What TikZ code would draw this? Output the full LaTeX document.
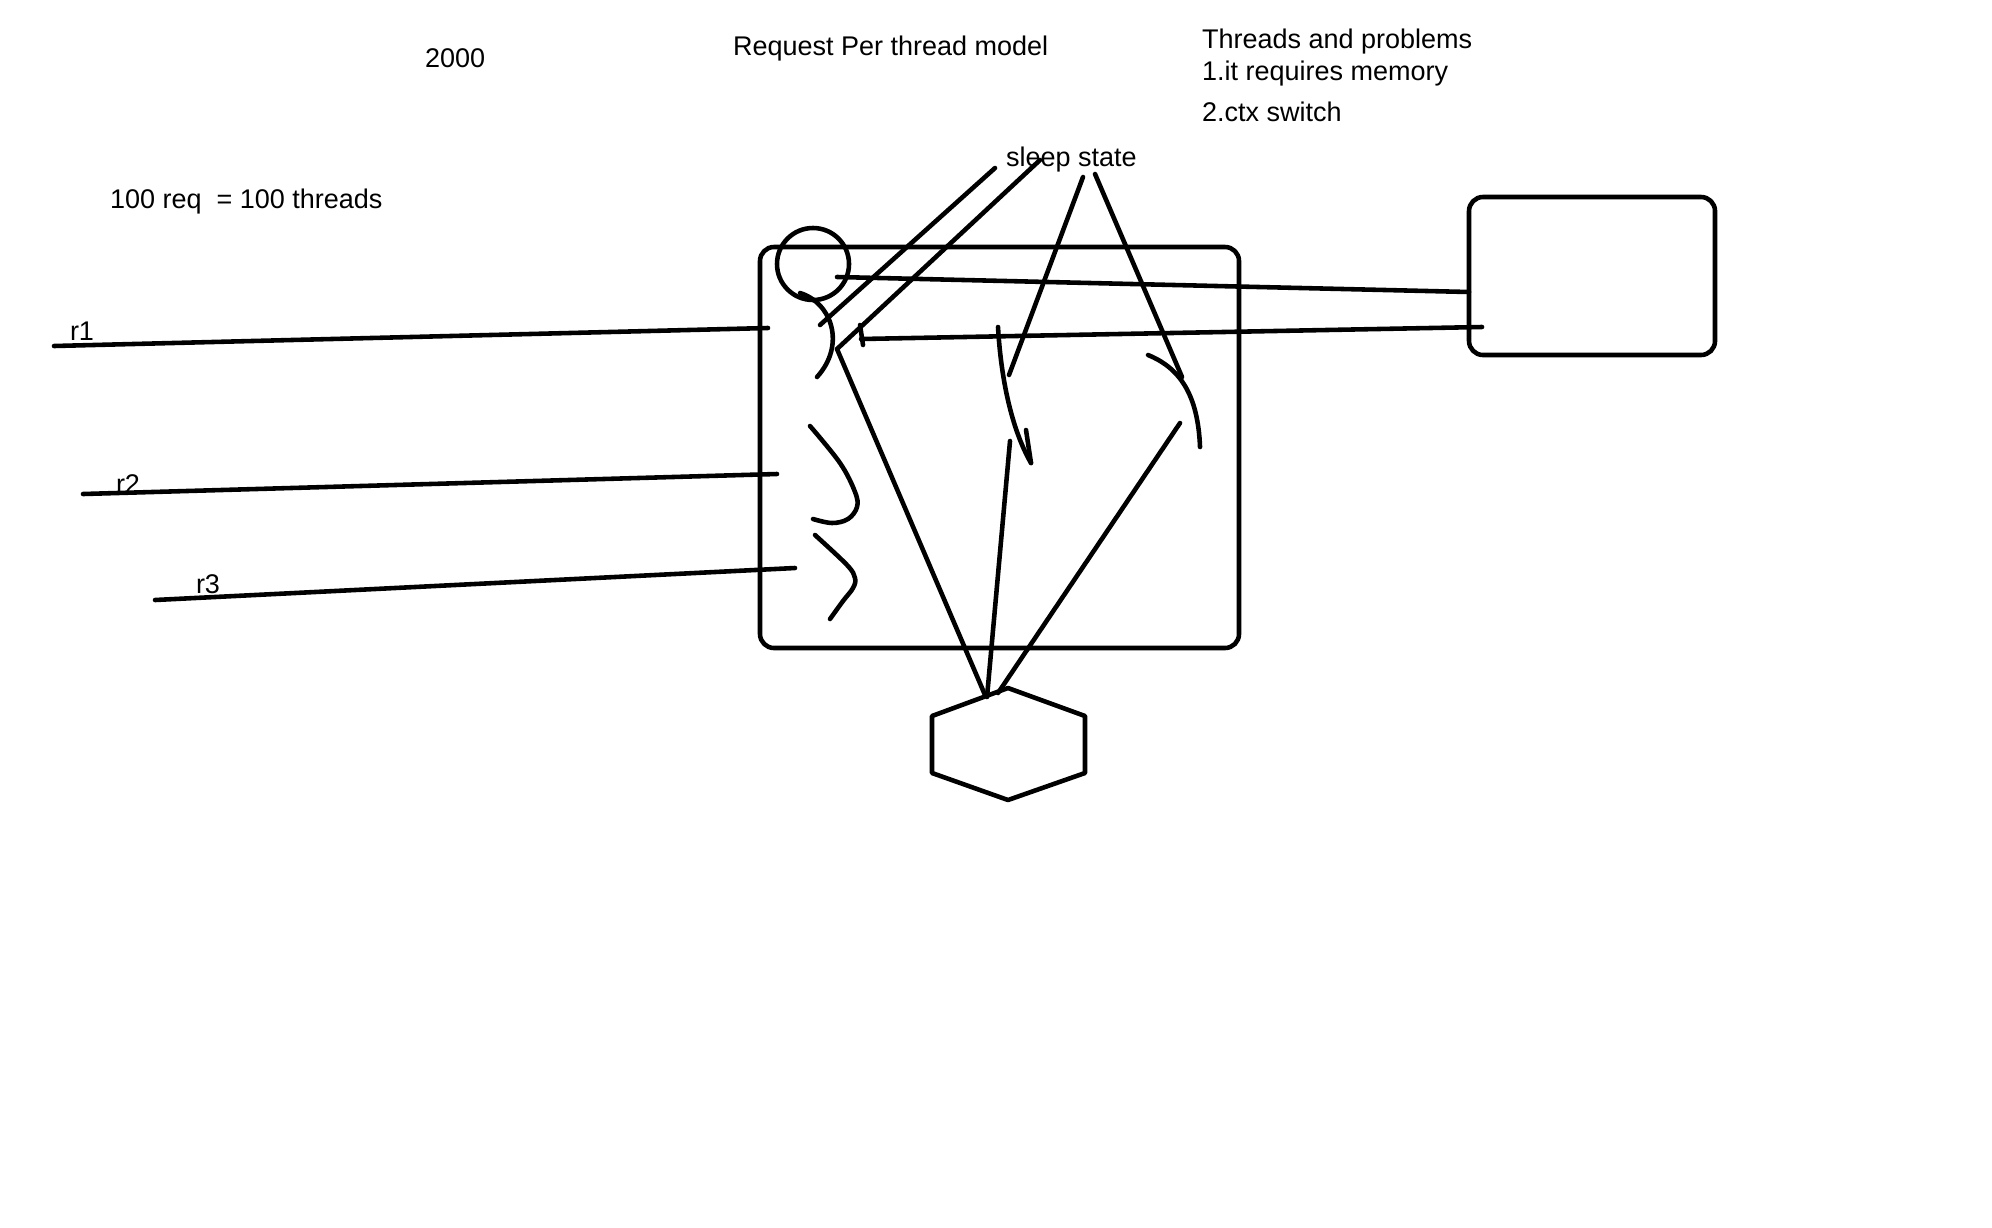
\documentclass[tikz,border=0pt]{standalone}
\usepackage{fontspec}
\setmainfont{Liberation Sans}
\begin{document}
\begin{tikzpicture}[x=0.01cm,y=-0.01cm,
  ink/.style={line width=1.3pt,line cap=round,line join=round,black},
  lbl/.style={anchor=base west,inner sep=0pt,outer sep=0pt,font=\fontsize{7.68}{9.2}\selectfont},
  boxshape/.style={ink,rounded corners=0.14cm}]
\useasboundingbox[fill=white] (0,0) rectangle (1992,1227);

% texts
\node[lbl] (t2000) at (425,67) {2000};
\node[lbl] (treq) at (110,208) {100 req\ \ = 100 threads};
\node[lbl] (tmodel) at (733,55) {Request Per thread model};
\node[lbl] (tprob) at (1202,48) {Threads and problems};
\node[lbl] (tmem) at (1202,80) {1.it requires memory};
\node[lbl] (tctx) at (1202,121) {2.ctx switch};
\node[lbl] (tsleep) at (1006,166) {sleep state};
\node[lbl] (tr1) at (70,340) {r1};
\node[lbl] (tr2) at (116,493) {r2};
\node[lbl] (tr3) at (196,593) {r3};

% boxes
\draw[boxshape] (760,247) rectangle (1239,648);
\node[inner sep=0pt] (server) at (1004,448) {};
\draw[boxshape] (1469,197) rectangle (1715,355);
\node[inner sep=0pt] (db) at (1592,276) {};

% hexagon
\coordinate (hT) at (1008,688);
\coordinate (hUR) at (1085,716);
\coordinate (hLR) at (1085,773);
\coordinate (hB) at (1008,800);
\coordinate (hLL) at (932,773);
\coordinate (hUL) at (932,716);
\draw[ink] (hT) -- (hUR) -- (hLR) -- (hB) -- (hLL) -- (hUL) -- cycle;

% request lines
\coordinate (r1a) at (54,346);  \coordinate (r1b) at (768,328);
\coordinate (r2a) at (83,494);  \coordinate (r2b) at (777,474);
\coordinate (r3a) at (155,600); \coordinate (r3b) at (795,568);
\draw[ink] (r1a) -- (r1b);
\draw[ink] (r2a) -- (r2b);
\draw[ink] (r3a) -- (r3b);

% stick figure 1
\draw[ink] (813,264) circle (36);
\draw[ink] (800,293) .. controls (832,303) and (846,345) .. (817,377);
% stick figures 2, 3
\draw[ink] plot[smooth,tension=0.6] coordinates {(810,426) (840,463) (855,492) (857,507) (848,519) (832,523) (813,519)};
\draw[ink] plot[smooth,tension=0.6] coordinates {(815,535) (847,565) (855,578) (853,588) (843,601) (830,619)};
% middle figure
\draw[ink] (998,327) .. controls (1001,380) and (1012,430) .. (1031,463);
\draw[ink] (1026,430) -- (1031,463);
% right figure
\draw[ink] (1148,355) .. controls (1180,368) and (1198,395) .. (1200,447);

% lines to the right box
\coordinate (u1) at (837,277); \coordinate (u2) at (1469,292);
\draw[ink] (u1) -- (u2);
\coordinate (l1) at (861,339); \coordinate (l2) at (1482,327);
\draw[ink] (l1) -- (l2);
\draw[ink] (860,325) -- (863,345);

% sleep state lines
\coordinate (s1a) at (995,168); \coordinate (s1b) at (820,325);
\coordinate (s2a) at (1040,160); \coordinate (s2b) at (837,349);
\coordinate (s3a) at (1083,177); \coordinate (s3b) at (1009,375);
\coordinate (s4a) at (1095,174); \coordinate (s4b) at (1182,377);
\draw[ink] (s1a) -- (s1b);
\draw[ink] (s2a) -- (s2b);
\draw[ink] (s3a) -- (s3b);
\draw[ink] (s4a) -- (s4b);

% lines to the hexagon
\coordinate (hx1) at (985,695);
\coordinate (hx2) at (987,697);
\coordinate (hx3) at (998,693);
\draw[ink] (s2b) -- (hx1);
\draw[ink] (1010,441) -- (hx2);
\draw[ink] (1180,423) -- (hx3);
\end{tikzpicture}
\end{document}
